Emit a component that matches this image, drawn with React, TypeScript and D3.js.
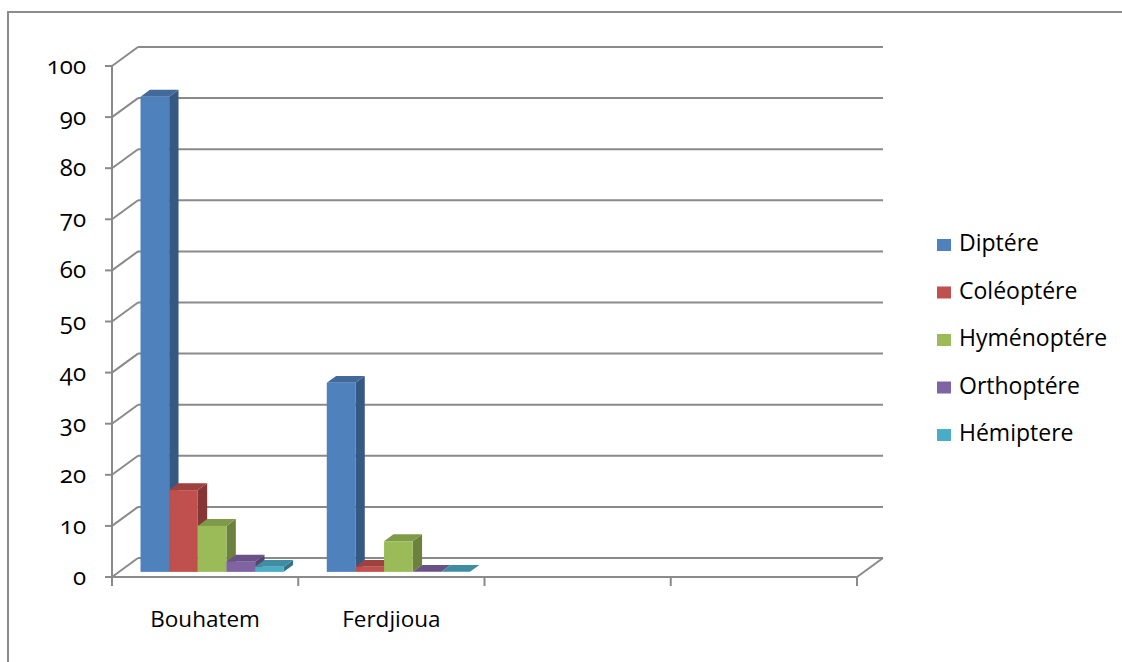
import React from "react";
import * as d3 from "d3";

// Sites on the category axis (the last two slots are empty)
const categories = ["Bouhatem", "Ferdjioua", "", ""];
// Insect orders (series)
const seriesNames = ["Diptére", "Coléoptére", "Hyménoptére", "Orthoptére", "Hémiptere"];
const seriesColors = ["#4F81BD", "#C0504D", "#9BBB59", "#8064A2", "#4BACC6"];
// Percentages per site, one array per order
const diptere = [93, 37];
const coleoptere = [16, 1];
const hymenoptere = [9, 6];
const orthoptere = [2, 0];
const hemiptere = [1, 0];
const seriesValues = [diptere, coleoptere, hymenoptere, orthoptere, hemiptere];
const yTicks = [0, 10, 20, 30, 40, 50, 60, 70, 80, 90, 100];

const W = 1122;
const H = 662;
const GRID = "#8a8a8a";
const FONT = "'Open Sans', 'Noto Sans', sans-serif";

export default function App() {
  // front plane of the 3D box
  const x = d3.scaleBand<string>().domain(categories.map((c, i) => String(i))).range([112, 857]);
  const y = d3.scaleLinear().domain([0, 100]).range([577, 66]);
  // full depth offset of the box (front -> back wall)
  const DX = 26;
  const DY = -19;
  // bars sit between these depth fractions
  const f0 = 0.27;
  const f1 = 0.63;

  const inner = d3
    .scaleBand<number>()
    .domain(d3.range(seriesNames.length))
    .range([0, x.bandwidth()])
    .paddingOuter(0.75)
    .paddingInner(0);

  const bars: React.ReactNode[] = [];
  categories.forEach((cat, ci) => {
    seriesValues.forEach((vals, si) => {
      const v = vals[ci];
      if (v === undefined) return;
      const bx = (x(String(ci)) as number) + inner(si)! + DX * f0;
      const bw = inner.bandwidth();
      const yb = y(0) + DY * f0;
      const yt = y(v) + DY * f0;
      const ddx = DX * (f1 - f0);
      const ddy = DY * (f1 - f0);
      const c = d3.color(seriesColors[si])!;
      const top = c.darker(0.55).formatHex();
      const side = c.darker(1.05).formatHex();
      bars.push(
        <g key={`${ci}-${si}`}>
          <polygon
            points={`${bx + bw},${yt} ${bx + bw + ddx},${yt + ddy} ${bx + bw + ddx},${yb + ddy} ${bx + bw},${yb}`}
            fill={side}
          />
          <polygon
            points={`${bx},${yt} ${bx + ddx},${yt + ddy} ${bx + bw + ddx},${yt + ddy} ${bx + bw},${yt}`}
            fill={top}
          />
          <rect x={bx} y={yt} width={bw} height={Math.max(0, yb - yt)} fill={seriesColors[si]} />
        </g>
      );
    });
  });

  const x0 = x.range()[0];
  const x1 = x.range()[1];

  return (
    <svg
      width={W}
      height={H}
      style={{ position: "absolute", left: 0, top: 0, display: "block", background: "#fff" }}
    >
      {/* outer chart border */}
      <rect x={8} y={12} width={W} height={H} fill="none" stroke="#8c8c8c" strokeWidth={2} />

      {/* back wall gridlines and side wall diagonals */}
      {yTicks.map((t) => (
        <g key={t}>
          <line x1={x0 + DX} x2={x1 + DX} y1={y(t) + DY} y2={y(t) + DY} stroke={GRID} strokeWidth={2} />
          <line x1={x0} x2={x0 + DX} y1={y(t)} y2={y(t) + DY} stroke={GRID} strokeWidth={2} />
        </g>
      ))}
      {/* floor front edge and right diagonal */}
      <line x1={x0} x2={x1} y1={y(0)} y2={y(0)} stroke={GRID} strokeWidth={2} />
      <line x1={x1} x2={x1 + DX} y1={y(0)} y2={y(0) + DY} stroke={GRID} strokeWidth={2} />

      {/* value axis */}
      <line x1={x0} x2={x0} y1={y(100)} y2={y(0)} stroke={GRID} strokeWidth={2} />
      {yTicks.map((t) => (
        <g key={`yt${t}`}>
          <line x1={x0 - 7} x2={x0} y1={y(t)} y2={y(t)} stroke={GRID} strokeWidth={2} />
          <text
            x={86}
            y={y(t) + 8}
            textAnchor="end"
            fontFamily={FONT}
            fontSize={24}
            fill="#000"
            style={{ fontVariantNumeric: "oldstyle-nums" }}
          >
            {t}
          </text>
        </g>
      ))}

      {/* category axis ticks and labels */}
      {d3.range(categories.length + 1).map((i) => {
        const tx = x0 + i * x.step();
        return <line key={`ct${i}`} x1={tx} x2={tx} y1={y(0)} y2={y(0) + 9} stroke={GRID} strokeWidth={2} />;
      })}
      {categories.map((c, i) => (
        <text
          key={`cl${i}`}
          x={(x(String(i)) as number) + x.bandwidth() / 2}
          y={627}
          textAnchor="middle"
          fontFamily={FONT}
          fontSize={22.5}
          fill="#000"
        >
          {c}
        </text>
      ))}

      {bars}

      {/* legend */}
      {seriesNames.map((n, i) => (
        <g key={n} transform={`translate(937, ${239 + i * 47.5})`}>
          <rect x={0} y={0} width={14} height={12} fill={seriesColors[i]} />
          <text x={22} y={12} fontFamily={FONT} fontSize={23} fill="#000">
            {n}
          </text>
        </g>
      ))}
    </svg>
  );
}
